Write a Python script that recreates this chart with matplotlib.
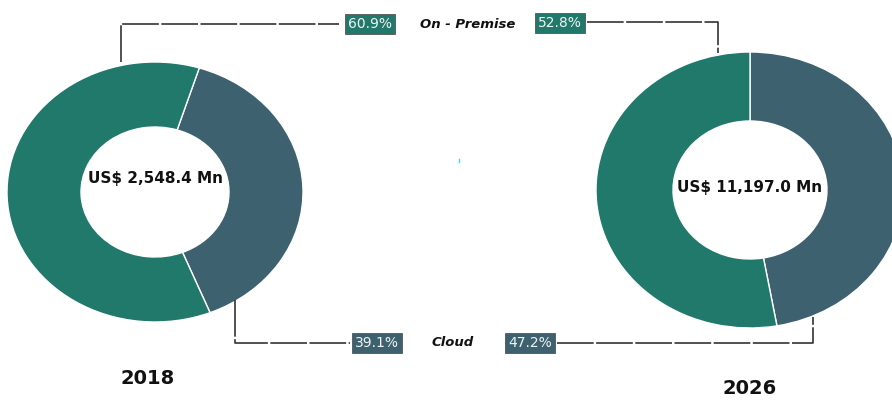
import matplotlib.pyplot as plt

# data
years = ['2018', '2026']
totals = ['US$ 2,548.4 Mn', 'US$ 11,197.0 Mn']
segments = ['Cloud', 'On - Premise']
cloud = [39.1, 47.2]
on_premise = [60.9, 52.8]

teal = '#21796C'
slate = '#3E6170'
line_col = '#333333'

fig = plt.figure(figsize=(8.92, 4.01), dpi=100)

# donut axes (pixel boxes -> figure fractions), stretched a bit horizontally
boxes = [(7, 62, 303, 322), (596, 52, 904, 328)]
starts = [72.6, 90]
text_y = [0.1, 0.02]
W, H = 892, 401
for i in range(2):
    x0, y0, x1, y1 = boxes[i]
    ax = fig.add_axes([x0 / W, (H - y1) / H, (x1 - x0) / W, (y1 - y0) / H])
    ax.pie([cloud[i], on_premise[i]], colors=[slate, teal],
           startangle=starts[i], counterclock=False, radius=1,
           wedgeprops=dict(width=0.5, edgecolor='white', linewidth=1))
    ax.set_aspect('auto')
    ax.set_xlim(-1, 1)
    ax.set_ylim(-1, 1)
    ax.text(0, text_y[i], totals[i], ha='center', va='center',
            fontsize=11, fontweight='bold', color='#111111')

# overlay for labels and connectors, in pixel units
ov = fig.add_axes([0, 0, 1, 1])
ov.set_xlim(0, W)
ov.set_ylim(H, 0)
ov.axis('off')
ov.patch.set_alpha(0)

dash = (0, (22, 1.5))
ov.plot([121, 121, 339], [62, 24, 24], color=line_col, lw=1.2, ls=dash)
ov.plot([587, 718, 718], [22, 22, 53], color=line_col, lw=1.2, ls=dash)
ov.plot([235, 235, 350], [300, 343, 343], color=line_col, lw=1.2, ls=dash)
ov.plot([557, 813, 813], [343, 343, 317], color=line_col, lw=1.2, ls=dash)

def pct_box(x, y, val, col):
    ov.text(x, y, f'{val:.1f}%', ha='center', va='center', fontsize=10,
            color='#f2f2f2',
            bbox=dict(boxstyle='square,pad=0.25', fc=col, ec='#555555', lw=0.6))

pct_box(370, 24, on_premise[0], teal)
pct_box(560, 23, on_premise[1], teal)
pct_box(377, 343, cloud[0], slate)
pct_box(530, 343, cloud[1], slate)

ov.text(468, 24, segments[1], ha='center', va='center', fontsize=9.5,
        fontweight='bold', style='italic', color='#111111')
ov.text(453, 343, segments[0], ha='center', va='center', fontsize=9.5,
        fontweight='bold', style='italic', color='#111111')

ov.text(148, 378, years[0], ha='center', va='center', fontsize=14,
        fontweight='bold', color='#111111')
ov.text(750, 389, years[1], ha='center', va='center', fontsize=14,
        fontweight='bold', color='#111111')

# tiny stray mark in the original
ov.plot([459, 459], [159, 162], color='#40d8f0', lw=1)

fig.savefig('out.png', dpi=100)
